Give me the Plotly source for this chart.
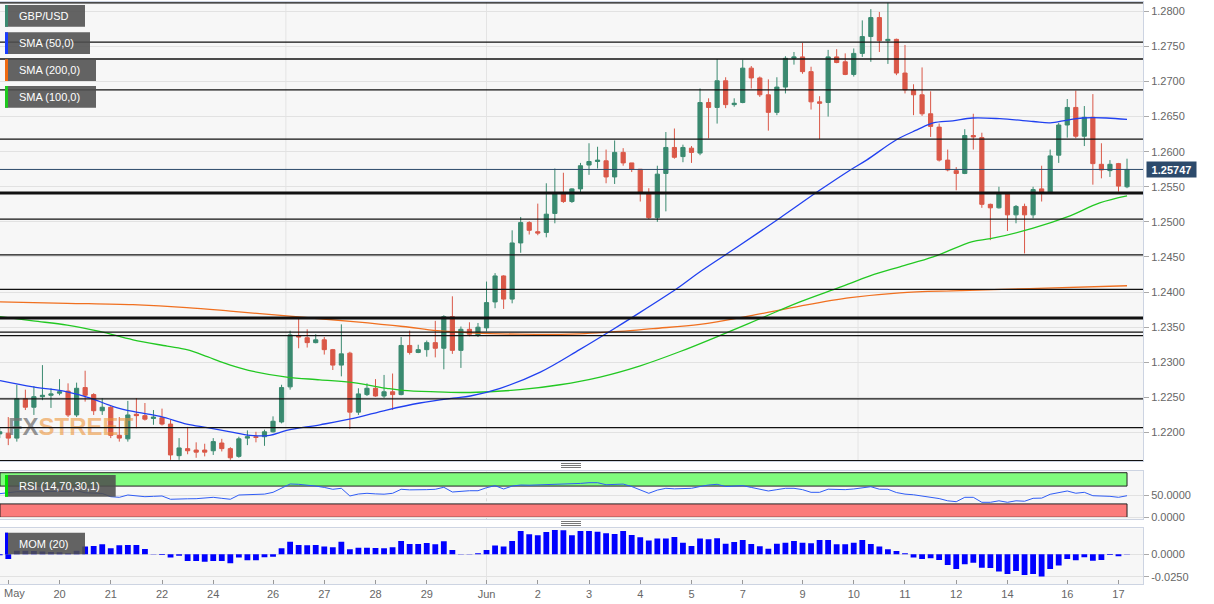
import plotly.graph_objects as go

W, H = 1214, 604
ML, MR, MT, MB = 0, 71, 2, 20
PW = W - ML - MR
PH = H - MT - MB


def pxx(xp):
    return (xp - ML) / PW


def pxy(yp):
    return (H - MB - yp) / PH


# ---------------- data (4h candles, index based) ----------------
idx = list(range(133))
opens = [1.2198, 1.2199, 1.2192, 1.2248, 1.2236, 1.2251, 1.2253, 1.2256, 1.2259, 1.2225,
         1.2264, 1.2254, 1.2231, 1.2236, 1.2196, 1.2191, 1.2226, 1.2224, 1.2220, 1.2221,
         1.2212, 1.2167, 1.2177, 1.2175, 1.2175, 1.2174, 1.2185, 1.2177, 1.2166, 1.2192,
         1.2194, 1.2194, 1.2201, 1.2215, 1.2265, 1.2338, 1.2335, 1.2328, 1.2332, 1.2318,
         1.2296, 1.2313, 1.2229, 1.2254, 1.2263, 1.2252, 1.2258, 1.2254, 1.2324, 1.2314,
         1.2318, 1.2328, 1.2320, 1.2365, 1.2317, 1.2347, 1.2339, 1.2349, 1.2386, 1.2423,
         1.2390, 1.2470, 1.2499, 1.2486, 1.2485, 1.2512, 1.2540, 1.2529, 1.2547, 1.2581,
         1.2586, 1.2587, 1.2564, 1.2599, 1.2584, 1.2575, 1.2541, 1.2506, 1.2569, 1.2606,
         1.2593, 1.2605, 1.2598, 1.2670, 1.2663, 1.2701, 1.2667, 1.2670, 1.2719, 1.2705,
         1.2681, 1.2656, 1.2692, 1.2733, 1.2735, 1.2714, 1.2671, 1.2670, 1.2735, 1.2728,
         1.2710, 1.2740, 1.2764, 1.2791, 1.2758, 1.2760, 1.2712, 1.2688, 1.2681, 1.2654,
         1.2635, 1.2588, 1.2573, 1.2569, 1.2623, 1.2620, 1.2525, 1.2520, 1.2540, 1.2510,
         1.2522, 1.2510, 1.2547, 1.2542, 1.2595, 1.2638, 1.2663, 1.2622, 1.2649, 1.2582,
         1.2573, 1.2583, 1.2550]
highs = [1.2206, 1.2222, 1.2268, 1.2261, 1.2266, 1.2296, 1.2263, 1.2276, 1.2270, 1.2271,
         1.2288, 1.2256, 1.2249, 1.2238, 1.2222, 1.2245, 1.2249, 1.2242, 1.2232, 1.2234,
         1.2218, 1.2192, 1.2208, 1.2186, 1.2184, 1.2192, 1.2191, 1.2179, 1.2194, 1.2203,
         1.2201, 1.2204, 1.2223, 1.2268, 1.2345, 1.2363, 1.2347, 1.2340, 1.2336, 1.2319,
         1.2354, 1.2315, 1.2263, 1.2270, 1.2276, 1.2282, 1.2284, 1.2336, 1.2345, 1.2325,
         1.2331, 1.2359, 1.2367, 1.2394, 1.2351, 1.2357, 1.2356, 1.2415, 1.2427, 1.2424,
         1.2488, 1.2507, 1.2501, 1.2526, 1.2555, 1.2576, 1.2570, 1.2548, 1.2584, 1.2612,
         1.2607, 1.2603, 1.2616, 1.2605, 1.2584, 1.2575, 1.2548, 1.2580, 1.2628, 1.2633,
         1.2610, 1.2608, 1.2690, 1.2676, 1.2732, 1.2706, 1.2676, 1.2731, 1.2722, 1.2707,
         1.2703, 1.2706, 1.2736, 1.2742, 1.2755, 1.2721, 1.2679, 1.2745, 1.2746, 1.2740,
         1.2747, 1.2787, 1.2803, 1.2799, 1.2812, 1.2761, 1.2752, 1.2696, 1.2720, 1.2686,
         1.2640, 1.2603, 1.2578, 1.2632, 1.2654, 1.2627, 1.2526, 1.2550, 1.2541, 1.2524,
         1.2526, 1.2550, 1.2580, 1.2603, 1.2641, 1.2675, 1.2687, 1.2665, 1.2682, 1.2612,
         1.2588, 1.2584, 1.2590]
lows = [1.2192, 1.2182, 1.2187, 1.2232, 1.2225, 1.2246, 1.2235, 1.2253, 1.2222, 1.2222,
        1.2244, 1.2225, 1.2225, 1.2192, 1.2187, 1.2187, 1.2206, 1.2217, 1.2211, 1.2210,
        1.2161, 1.2161, 1.2169, 1.2164, 1.2166, 1.2168, 1.2173, 1.2161, 1.2164, 1.2182,
        1.2186, 1.2181, 1.2200, 1.2213, 1.2261, 1.2320, 1.2321, 1.2327, 1.2311, 1.2289,
        1.2280, 1.2205, 1.2225, 1.2252, 1.2251, 1.2249, 1.2232, 1.2253, 1.2311, 1.2313,
        1.2308, 1.2307, 1.2290, 1.2312, 1.2292, 1.2337, 1.2336, 1.2344, 1.2377, 1.2376,
        1.2384, 1.2456, 1.2482, 1.2481, 1.2478, 1.2498, 1.2527, 1.2527, 1.2542, 1.2567,
        1.2576, 1.2555, 1.2554, 1.2580, 1.2571, 1.2529, 1.2504, 1.2500, 1.2515, 1.2590,
        1.2585, 1.2584, 1.2595, 1.2619, 1.2640, 1.2662, 1.2664, 1.2669, 1.2690, 1.2678,
        1.2630, 1.2652, 1.2683, 1.2724, 1.2711, 1.2660, 1.2618, 1.2650, 1.2726, 1.2709,
        1.2707, 1.2735, 1.2728, 1.2742, 1.2725, 1.2709, 1.2683, 1.2652, 1.2651, 1.2621,
        1.2586, 1.2572, 1.2545, 1.2568, 1.2603, 1.2520, 1.2474, 1.2519, 1.2487, 1.2498,
        1.2455, 1.2505, 1.2529, 1.2541, 1.2584, 1.2620, 1.2619, 1.2608, 1.2553, 1.2562,
        1.2564, 1.2543, 1.2548]
closes = [1.2201, 1.2192, 1.2248, 1.2236, 1.2251, 1.2253, 1.2255, 1.2258, 1.2225, 1.2263,
          1.2253, 1.2231, 1.2236, 1.2196, 1.2192, 1.2225, 1.2224, 1.2219, 1.2222, 1.2212,
          1.2168, 1.2178, 1.2174, 1.2172, 1.2172, 1.2187, 1.2177, 1.2164, 1.2191, 1.2194,
          1.2193, 1.2201, 1.2216, 1.2264, 1.2339, 1.2336, 1.2328, 1.2332, 1.2318, 1.2296,
          1.2312, 1.2229, 1.2255, 1.2263, 1.2252, 1.2258, 1.2254, 1.2324, 1.2314, 1.2318,
          1.2328, 1.2320, 1.2365, 1.2317, 1.2347, 1.2340, 1.2350, 1.2385, 1.2423, 1.2390,
          1.2470, 1.2499, 1.2488, 1.2484, 1.2511, 1.2540, 1.2529, 1.2547, 1.2580, 1.2586,
          1.2588, 1.2564, 1.2599, 1.2584, 1.2575, 1.2542, 1.2506, 1.2568, 1.2606, 1.2592,
          1.2606, 1.2599, 1.2670, 1.2663, 1.2701, 1.2667, 1.2669, 1.2719, 1.2705, 1.2681,
          1.2656, 1.2692, 1.2733, 1.2735, 1.2714, 1.2671, 1.2669, 1.2735, 1.2727, 1.2710,
          1.2740, 1.2764, 1.2791, 1.2758, 1.2760, 1.2712, 1.2688, 1.2681, 1.2654, 1.2636,
          1.2588, 1.2574, 1.2569, 1.2623, 1.2621, 1.2525, 1.2520, 1.2540, 1.2510, 1.2522,
          1.2510, 1.2546, 1.2542, 1.2594, 1.2638, 1.2663, 1.2622, 1.2649, 1.2583, 1.2574,
          1.2582, 1.2551, 1.25747]

# moving averages (candle index, value)
sma50_x = [0.03, 3.9, 7.9, 10.6, 13.3, 15.6, 18.8, 21.9, 24.3, 27.0, 29.3, 31.6, 33.6, 37.5,
           41.4, 45.3, 49.2, 53.1, 55.1, 58.6, 63.3, 67.9, 71.7, 74.2, 79.3, 82.0, 86.7, 91.4,
           96.0, 99.6, 101.5, 105.0, 107.4, 109.3, 111.6, 113.9, 117.1, 121.0, 123.0, 125.0,
           126.8, 129.6, 132.0]
sma50_y = [1.2274, 1.2265, 1.2258, 1.2249, 1.2237, 1.2230, 1.2223, 1.2212, 1.2207, 1.2201,
           1.2196, 1.2196, 1.2203, 1.2211, 1.2220, 1.2232, 1.2242, 1.2249, 1.2252, 1.2263,
           1.2286, 1.2318, 1.2346, 1.2365, 1.2405, 1.2429, 1.2467, 1.2506, 1.2545, 1.2574,
           1.2588, 1.2617, 1.2631, 1.2641, 1.2644, 1.2648, 1.2647, 1.2643, 1.2641, 1.2645,
           1.2648, 1.2648, 1.2646]
sma100_x = [0.03, 3.9, 7.9, 11.7, 15.6, 19.6, 21.9, 24.3, 25.8, 27.0, 29.7, 33.6, 37.5, 41.4,
            45.3, 47.2, 51.2, 55.1, 60.9, 65.6, 70.3, 75.0, 79.6, 84.3, 89.0, 93.7, 98.4,
            101.9, 105.4, 109.3, 113.9, 116.0, 121.0, 125.0, 128.8, 132.0]
sma100_y = [1.2365, 1.2359, 1.2353, 1.2344, 1.2332, 1.2323, 1.2318, 1.2308, 1.2301, 1.2296,
            1.2287, 1.2279, 1.2275, 1.2271, 1.2263, 1.2260, 1.2258, 1.2257, 1.2261, 1.2268,
            1.2279, 1.2295, 1.2315, 1.2338, 1.2362, 1.2386, 1.2407, 1.2423, 1.2436, 1.2450,
            1.2472, 1.2476, 1.2491, 1.2507, 1.2527, 1.2537]
sma200_x = [0.03, 7.9, 15.6, 21.9, 27.0, 33.6, 41.4, 47.2, 51.2, 55.1, 60.9, 66.8, 72.6,
            76.5, 82.0, 87.8, 93.7, 99.6, 105.4, 112.4, 120.6, 132.0]
sma200_y = [1.2386, 1.2384, 1.2382, 1.2378, 1.2373, 1.2366, 1.2358, 1.2351, 1.2345, 1.2342,
            1.2340, 1.2340, 1.2344, 1.2348, 1.2354, 1.2366, 1.2380, 1.2392, 1.2399, 1.2402,
            1.2405, 1.2409]

rsi = [53, 55, 57.4, 57, 57.4, 58, 59, 58, 57.4, 59.6,
       55, 53.8, 53.5, 46.2, 44.8, 50, 48, 46.2, 47, 47.8,
       40.4, 41.7, 41.5, 41.7, 43, 44.8, 42.5, 40.4, 50, 50.5,
       50, 52, 56, 66, 74.7, 74, 72.4, 70, 67, 62.8,
       65, 47.8, 52.2, 53.8, 52.5, 51.8, 53.8, 62.8, 61.5, 61.2,
       62, 62.8, 67.3, 56.7, 59, 59.6, 59.6, 66.4, 70.9, 63.5,
       70, 72.4, 72, 72.4, 73.5, 74.7, 74, 74.7, 76, 77.6,
       77.6, 73, 73.5, 74.5, 69, 61, 53.8, 61, 65, 63.8,
       64, 65, 69, 72.4, 74, 69, 70, 70.9, 67, 63,
       59, 62, 65, 65, 62, 56, 56, 63, 62, 62,
       63.5, 65.5, 68.6, 63, 62.8, 55.5, 52, 50.5, 48, 45,
       42, 37, 35, 44.8, 44.8, 33.6, 33.6, 37, 33.6, 37,
       36, 42.6, 43, 51.6, 55, 59, 54, 56, 48.4, 48,
       47, 44.8, 48.4]

mom = [-0.0010, -0.0052, 0.0041, 0.0041, 0.0037, 0.0030, 0.0026, 0.0022, 0.0011, 0.0041,
       0.0086, 0.0093, 0.0112, 0.0067, 0.0100, 0.0104, 0.0104, 0.0060, 0.0004, -0.0007,
       -0.0037, -0.0015, -0.0074, -0.0074, -0.0082, -0.0074, -0.0074, -0.0100, -0.0037, -0.0067,
       -0.0067, -0.0033, -0.0026, 0.0067, 0.0141, 0.0104, 0.0100, 0.0104, 0.0086, 0.0078,
       0.0141, 0.0056, 0.0074, 0.0074, 0.0071, 0.0067, 0.0078, 0.0149, 0.0115, 0.0115,
       0.0126, 0.0112, 0.0145, 0.0048, 0.0004, 0.0004, 0.0011, 0.0048, 0.0097, 0.0086,
       0.0149, 0.0260, 0.0223, 0.0212, 0.0249, 0.0272, 0.0268, 0.0212, 0.0260, 0.0260,
       0.0253, 0.0234, 0.0227, 0.0260, 0.0216, 0.0190, 0.0153, 0.0175, 0.0175, 0.0193,
       0.0130, 0.0093, 0.0175, 0.0167, 0.0179, 0.0119, 0.0138, 0.0160, 0.0115, 0.0089,
       0.0063, 0.0119, 0.0130, 0.0149, 0.0130, 0.0123, 0.0160, 0.0160, 0.0112, 0.0112,
       0.0130, 0.0160, 0.0115, 0.0086, 0.0056, 0.0037, 0.0011, -0.0037, -0.0052, -0.0045,
       -0.0063, -0.0119, -0.0164, -0.0112, -0.0093, -0.0149, -0.0153, -0.0193, -0.0219, -0.0186,
       -0.0231, -0.0219, -0.0249, -0.0164, -0.0126, -0.0052, -0.0067, -0.0033, -0.0071, -0.0063,
       -0.0007, -0.0022, 0.0004]

hline_prices = [1.2812, 1.2756, 1.2732, 1.2688, 1.2618, 1.2541, 1.2504, 1.2453, 1.2404,
                1.2363, 1.2343, 1.2338, 1.2248, 1.2207, 1.2160]
hline_thick = [1.2541, 1.2363]
last_price = 1.25747

tick_idx = [1, 7, 13, 19, 25, 32, 38, 44, 50, 57, 63, 69, 75, 81, 87, 94, 100, 106, 112,
            118, 125, 131]
tick_txt = ['', '20', '21', '22', '24', '26', '27', '28', '29', 'Jun', '2', '3',
            '4', '5', '7', '9', '10', '11', '12', '14', '16', '17']
first_label = 'May'
price_ticks = [1.2200, 1.2250, 1.2300, 1.2350, 1.2400, 1.2450, 1.2500, 1.2550, 1.2600,
               1.2650, 1.2700, 1.2750, 1.2800]

# ---------------- styling ----------------
UP = '#3a8a70'
DN = '#da5848'
FONT = 'Liberation Sans, Arial, sans-serif'
AXC = '#cdd4e2'
GRID = '#e2e2e2'
XR = [0.03, 133.87]

fig = go.Figure()

# watermark (behind candles)
fig.add_trace(go.Scatter(
    x=[8.3], y=[1.2205], mode='text', xaxis='x', yaxis='y',
    text='<b><span style="color:rgba(115,115,115,0.75)">FX</span>'
         '<span style="color:rgba(238,150,60,0.6)">STREET</span></b>',
    textfont=dict(family='Liberation Sans Narrow, Arial Narrow, sans-serif', size=24),
    textposition='middle center', hoverinfo='skip', showlegend=False))

fig.add_trace(go.Scatter(x=sma200_x, y=sma200_y, mode='lines', xaxis='x', yaxis='y',
                         line=dict(color='#f07020', width=1.3, shape='spline'),
                         hoverinfo='skip', showlegend=False))
fig.add_trace(go.Scatter(x=sma100_x, y=sma100_y, mode='lines', xaxis='x', yaxis='y',
                         line=dict(color='#22c822', width=1.3, shape='spline'),
                         hoverinfo='skip', showlegend=False))
fig.add_trace(go.Scatter(x=sma50_x, y=sma50_y, mode='lines', xaxis='x', yaxis='y',
                         line=dict(color='#2040f0', width=1.3, shape='spline'),
                         hoverinfo='skip', showlegend=False))

fig.add_trace(go.Candlestick(
    x=idx, open=opens, high=highs, low=lows, close=closes, xaxis='x', yaxis='y',
    increasing=dict(line=dict(color=UP, width=1), fillcolor=UP),
    decreasing=dict(line=dict(color=DN, width=1), fillcolor=DN),
    whiskerwidth=0, hoverinfo='skip', showlegend=False))

fig.add_trace(go.Scatter(x=idx, y=rsi, mode='lines', xaxis='x2', yaxis='y2',
                         line=dict(color='#2f5cf5', width=1), hoverinfo='skip',
                         showlegend=False))

fig.add_trace(go.Bar(x=idx, y=mom, xaxis='x3', yaxis='y3', width=0.68,
                     marker=dict(color='#0000ff', line=dict(width=0)),
                     hoverinfo='skip', showlegend=False))

xcommon = dict(range=XR, showgrid=False, zeroline=False, showline=True, linecolor=AXC,
               linewidth=1, mirror=True, fixedrange=True,
               rangeslider=dict(visible=False))
ycommon = dict(side='right', showline=True, linecolor=AXC, linewidth=1, mirror=True,
               zeroline=False, gridcolor=GRID, ticks='outside', ticklen=5, tickcolor='#aaa',
               tickfont=dict(family=FONT, size=11, color='#666'), automargin=False,
               fixedrange=True)

fig.update_layout(
    width=W, height=H,
    margin=dict(l=ML, r=MR, t=MT, b=MB, autoexpand=False),
    paper_bgcolor='white', plot_bgcolor='#f7f7f7',
    font=dict(family=FONT, size=11, color='#666'),
    showlegend=False, hovermode=False,
    xaxis=dict(domain=[0, 1], anchor='y', showticklabels=False, ticks='', **xcommon),
    xaxis2=dict(domain=[0, 1], anchor='y2', showticklabels=False, ticks='', **xcommon),
    xaxis3=dict(domain=[0, 1], anchor='y3', tickvals=tick_idx, ticktext=tick_txt,
                ticks='inside', ticklen=4, tickcolor='#999', automargin=False,
                tickfont=dict(family=FONT, size=11, color='#666'), **xcommon),
    yaxis=dict(domain=[pxy(461), 1], anchor='x', range=[1.21594, 1.28132],
               tickvals=price_ticks, ticktext=['%.4f' % v for v in price_ticks], **ycommon),
    yaxis2=dict(domain=[pxy(519.3), pxy(470.7)], anchor='x2', range=[-4.5, 104.5],
                tickvals=[0, 50], ticktext=['0.0000', '50.0000'], **ycommon),
    yaxis3=dict(domain=[0, pxy(528.3)], anchor='x3', range=[-0.03315, 0.02902],
                tickvals=[-0.025, 0], ticktext=['-0.0250', '0.0000'], **ycommon),
)

shapes = []
# faint vertical separators
for xv in [33.5, 57, 100.5]:
    shapes.append(dict(type='line', xref='x', yref='y domain', x0=xv, x1=xv, y0=0, y1=1,
                       line=dict(color='#e4e4e4', width=1), layer='below'))
shapes.append(dict(type='line', xref='x3', yref='y3 domain', x0=57, x1=57, y0=0, y1=1,
                   line=dict(color='#e4e4e4', width=1), layer='below'))
shapes.append(dict(type='line', xref='x2', yref='y2 domain', x0=57, x1=57, y0=0, y1=1,
                   line=dict(color='#d8d8d8', width=1, dash='dot'), layer='below'))

# support / resistance lines
for p in hline_prices:
    w = 3 if p in hline_thick else 1.3
    shapes.append(dict(type='line', xref='x domain', yref='y', x0=0, x1=1, y0=p, y1=p,
                       line=dict(color='#111111', width=w), layer='above'))
# last price line
shapes.append(dict(type='line', xref='x domain', yref='y', x0=0, x1=1, y0=last_price,
                   y1=last_price, line=dict(color='#2c4a6b', width=1), layer='above'))

# RSI bands
shapes.append(dict(type='rect', xref='x2', yref='y2', x0=XR[0], x1=132, y0=70, y1=100,
                   fillcolor='#80fc7e', line=dict(color='#222', width=1), layer='below'))
shapes.append(dict(type='rect', xref='x2', yref='y2', x0=XR[0], x1=132, y0=0, y1=30,
                   fillcolor='#fb7b7b', line=dict(color='#222', width=1), layer='below'))

# label boxes
boxes = [
    (5, 85, 5, 26.7, '#3a8a70', 'GBP/USD'),
    (5, 90, 32.3, 54, '#1a3cff', 'SMA (50,0)'),
    (5, 96, 59.3, 81, '#f06a10', 'SMA (200,0)'),
    (5, 96, 86, 107.7, '#1ec81e', 'SMA (100,0)'),
    (5, 115.7, 475, 496.7, '#00e000', 'RSI (14,70,30,1)'),
    (5, 85, 532.7, 554.3, '#0000ff', 'MOM (20)'),
]
annotations = []
for x0, x1, y0, y1, col, txt in boxes:
    shapes.append(dict(type='rect', xref='paper', yref='paper', x0=pxx(x0), x1=pxx(x1),
                       y0=pxy(y1), y1=pxy(y0), fillcolor='rgba(78,78,78,0.88)',
                       line=dict(width=0), layer='above'))
    shapes.append(dict(type='rect', xref='paper', yref='paper', x0=pxx(x0), x1=pxx(x0 + 3),
                       y0=pxy(y1), y1=pxy(y0), fillcolor=col, line=dict(width=0),
                       layer='above'))
    annotations.append(dict(xref='paper', yref='paper', x=pxx(17), y=pxy((y0 + y1) / 2),
                            xanchor='left', yanchor='middle', showarrow=False, text=txt,
                            font=dict(family=FONT, size=11, color='white')))

# first (month) axis label, kept inside the page
annotations.append(dict(xref='paper', yref='paper', x=pxx(1.5), y=pxy(592.5), xanchor='left',
                        yanchor='middle', showarrow=False, text=first_label,
                        font=dict(family=FONT, size=11, color='#666')))

# grip icons between panes
for yy in (463.5, 465.5, 467.5, 521.5, 523.5, 525.5):
    shapes.append(dict(type='line', xref='paper', yref='paper', x0=pxx(561), x1=pxx(581),
                       y0=pxy(yy), y1=pxy(yy), line=dict(color='#777', width=1)))

# last price label
annotations.append(dict(xref='paper', yref='y', x=pxx(1146), y=last_price, xanchor='left',
                        yanchor='middle', showarrow=False, text='<b>1.25747</b>',
                        font=dict(family=FONT, size=11, color='white'),
                        bgcolor='#2c4a6b', width=46, height=12, borderpad=1.5))

fig.update_layout(shapes=shapes, annotations=annotations)
fig.write_html("out.html", config={'displayModeBar': False, 'staticPlot': True},
               post_script="document.body.style.margin='0px';")
